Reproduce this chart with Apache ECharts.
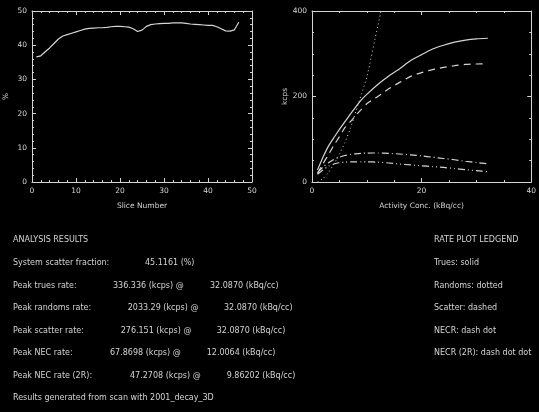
<!DOCTYPE html>
<html>
<head>
<meta charset="utf-8">
<script src="https://cdn.jsdelivr.net/npm/echarts@6/dist/echarts.min.js"></script>
<style>
html,body{margin:0;padding:0;background:#000;}
#c{width:539px;height:412px;}
</style>
</head>
<body>
<div id="c"></div>
<script>
// ---- Left plot data: scatter fraction per slice ----
const slices = [];
for (let i = 1; i <= 47; i++) slices.push(i);
const sliceScatter = [36.6, 36.9, 38.1, 39.2, 40.5, 41.8, 42.7, 43.1, 43.5, 43.9,
  44.3, 44.7, 44.9, 45.0, 45.1, 45.1, 45.2, 45.4, 45.5, 45.5,
  45.4, 45.3, 44.8, 44.0, 44.4, 45.5, 46.0, 46.2, 46.3, 46.4,
  46.4, 46.5, 46.5, 46.5, 46.4, 46.2, 46.1, 46.0, 45.9, 45.8,
  45.8, 45.4, 44.8, 44.2, 44.1, 44.5, 46.7];

// ---- Right plot data: count rates vs activity concentration ----
const activity = [1.0, 2, 3, 4, 5, 6, 7, 8, 9, 10, 12, 14, 16, 18, 20, 22, 24, 26, 28, 30, 32.087];
const trues    = [28, 58, 84, 104, 123, 141, 159, 176, 192, 205, 228, 248, 265, 284, 298, 311, 320, 327, 332, 335, 336.3];
const randoms  = [0, 8, 22, 42, 65, 92, 125, 165, 205, 245, 365, 480, 600, 730, 860, 1000, 1150, 1310, 1500, 1720, 2033.29];
const scatter  = [20, 43, 64, 86, 106, 127, 141, 156, 170, 183, 200, 218, 233, 247, 256, 263, 268, 272, 275, 276, 276.2];
const necr     = [22, 35, 45, 53, 58, 62, 64.5, 66, 67, 67.6, 67.87, 67, 65.5, 63.5, 61, 58, 55, 52, 48.5, 45.5, 42.5];
const necr2r   = [18, 28, 37, 42, 45, 46.5, 47, 47.2, 47.3, 47.2, 46.5, 44.5, 42, 40, 38, 36, 34, 31.5, 29, 26.5, 24];

// ---- Text ----
const resultLabels = ["System scatter fraction:", "Peak trues rate:", "Peak randoms rate:", "Peak scatter rate:", "Peak NEC rate:", "Peak NEC rate (2R):"];
const resultValues = ["45.1161 (%)", "336.336 (kcps) @", "2033.29 (kcps) @", "276.151 (kcps) @", "67.8698 (kcps) @", "47.2708 (kcps) @"];
const resultConc   = ["", "32.0870 (kBq/cc)", "32.0870 (kBq/cc)", "32.0870 (kBq/cc)", "12.0064 (kBq/cc)", "9.86202 (kBq/cc)"];
const legendLines  = ["RATE PLOT LEDGEND", "Trues: solid", "Randoms: dotted", "Scatter: dashed", "NECR: dash dot", "NECR (2R): dash dot dot"];

const FG = '#d4d4d4';
const FONT = 'DejaVu Sans';
const FS = 7.5;
const TFS = 8;

const chart = echarts.init(document.getElementById('c'), null, {renderer: 'canvas'});

function axisBase(extra) {
  return Object.assign({
    type: 'value',
    axisLine: {show: true, onZero: false, lineStyle: {color: FG, width: 1}},
    axisTick: {show: true, inside: true, length: 4, lineStyle: {color: FG}},
    splitLine: {show: false},
    axisLabel: {show: true, color: FG, fontFamily: FONT, fontSize: FS, margin: 5},
    nameTextStyle: {color: FG, fontFamily: FONT, fontSize: FS}
  }, extra);
}
const minor = (n) => ({show: true, splitNumber: n, length: 2, lineStyle: {color: FG}});

const textEl = (t, x, y) => ({
  type: 'text', x: x, y: y, silent: true,
  style: {text: t, fill: FG, font: TFS + 'px "' + FONT + '"', textAlign: 'left', textVerticalAlign: 'middle'}
});

const graphics = [];
const rowY = [262.7, 285.7, 308.3, 331, 353.3, 376];
const valueX = [145, 113, 127.7, 120.7, 110, 130];
const concX = [0, 210, 224, 216.7, 206.7, 226.7];
graphics.push(textEl("ANALYSIS RESULTS", 13, 240));
resultLabels.forEach((l, i) => {
  graphics.push(textEl(l, 13, rowY[i]));
  graphics.push(textEl(resultValues[i], valueX[i], rowY[i]));
  if (resultConc[i]) graphics.push(textEl(resultConc[i], concX[i], rowY[i]));
});
graphics.push(textEl("Results generated from scan with 2001_decay_3D", 13, 398.3));
const legY = [240, 262.7, 285.7, 308.3, 331, 353.3];
legendLines.forEach((l, i) => graphics.push(textEl(l, 434, legY[i])));

const lineCommon = {type: 'line', showSymbol: false, symbol: 'none', silent: true, animation: false, clip: true};

chart.setOption({
  backgroundColor: '#000',
  animation: false,
  grid: [
    {left: 32, top: 11, width: 220, height: 171},
    {left: 312, top: 11, width: 220, height: 171}
  ],
  xAxis: [
    axisBase({gridIndex: 0, position: 'bottom', min: 0, max: 50, interval: 10, minorTick: minor(5),
      name: 'Slice Number', nameLocation: 'middle', nameGap: 20}),
    axisBase({gridIndex: 0, position: 'top', min: 0, max: 50, interval: 10, minorTick: minor(5), axisLabel: {show: false}}),
    axisBase({gridIndex: 1, position: 'bottom', min: 0, max: 40, interval: 20, minorTick: minor(4),
      name: 'Activity Conc. (kBq/cc)', nameLocation: 'middle', nameGap: 20}),
    axisBase({gridIndex: 1, position: 'top', min: 0, max: 40, interval: 20, minorTick: minor(4), axisLabel: {show: false}})
  ],
  yAxis: [
    axisBase({gridIndex: 0, position: 'left', min: 0, max: 50, interval: 10, minorTick: minor(5),
      name: '%', nameLocation: 'middle', nameGap: 22, nameRotate: 90}),
    axisBase({gridIndex: 0, position: 'right', min: 0, max: 50, interval: 10, minorTick: minor(5), axisLabel: {show: false}}),
    axisBase({gridIndex: 1, position: 'left', min: 0, max: 400, interval: 200, minorTick: minor(4),
      name: 'kcps', nameLocation: 'middle', nameGap: 23, nameRotate: 90}),
    axisBase({gridIndex: 1, position: 'right', min: 0, max: 400, interval: 200, minorTick: minor(4), axisLabel: {show: false}})
  ],
  series: [
    Object.assign({}, lineCommon, {xAxisIndex: 0, yAxisIndex: 0, data: slices.map((s, i) => [s, sliceScatter[i]]), lineStyle: {color: FG, width: 1.2}}),
    Object.assign({}, lineCommon, {xAxisIndex: 2, yAxisIndex: 2, data: activity.map((a, i) => [a, trues[i]]), smooth: 0.2, lineStyle: {color: FG, width: 1.2, type: 'solid'}}),
    Object.assign({}, lineCommon, {xAxisIndex: 2, yAxisIndex: 2, data: activity.map((a, i) => [a, randoms[i]]), smooth: 0.2, lineStyle: {color: FG, width: 1, type: [1, 3]}}),
    Object.assign({}, lineCommon, {xAxisIndex: 2, yAxisIndex: 2, data: activity.map((a, i) => [a, scatter[i]]), smooth: 0.2, lineStyle: {color: FG, width: 1.2, type: [7, 5]}}),
    Object.assign({}, lineCommon, {xAxisIndex: 2, yAxisIndex: 2, data: activity.map((a, i) => [a, necr[i]]), smooth: 0.2, lineStyle: {color: FG, width: 1.2, type: [7, 3, 1, 3]}}),
    Object.assign({}, lineCommon, {xAxisIndex: 2, yAxisIndex: 2, data: activity.map((a, i) => [a, necr2r[i]]), smooth: 0.2, lineStyle: {color: FG, width: 1.2, type: [7, 3, 1, 3, 1, 3]}})
  ],
  graphic: graphics
});
</script>
</body>
</html>
